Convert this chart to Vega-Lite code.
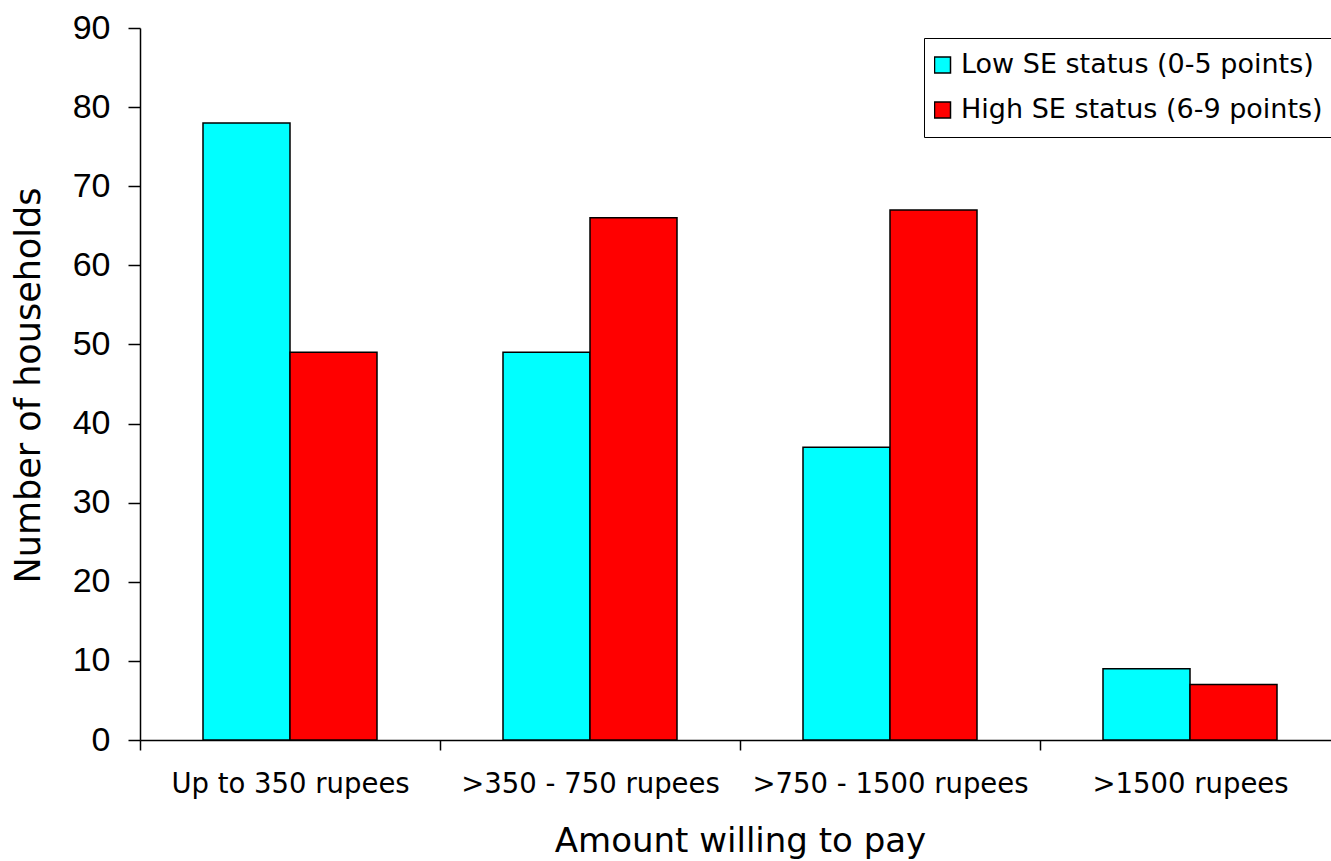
{
  "$schema": "https://vega.github.io/schema/vega-lite/v6.json",
  "autosize": {"type": "none"},
  "width": 1200,
  "height": 712,
  "padding": {"left": 140, "top": 28, "right": 0, "bottom": 121},
  "background": "white",
  "config": {
    "font": "Liberation Sans",
    "view": {"stroke": null},
    "axis": {"grid": false, "domainColor": "black", "tickColor": "black", "labelColor": "black", "titleColor": "black", "domainWidth": 1.5, "tickWidth": 1.5, "titleFontWeight": "normal"}
  },
  "data": {
    "values": [
      {"amount": "Up to 350 rupees", "group": "Low SE status (0-5 points)", "households": 78},
      {"amount": "Up to 350 rupees", "group": "High SE status (6-9 points)", "households": 49},
      {"amount": ">350 - 750 rupees", "group": "Low SE status (0-5 points)", "households": 49},
      {"amount": ">350 - 750 rupees", "group": "High SE status (6-9 points)", "households": 66},
      {"amount": ">750 - 1500 rupees", "group": "Low SE status (0-5 points)", "households": 37},
      {"amount": ">750 - 1500 rupees", "group": "High SE status (6-9 points)", "households": 67},
      {"amount": ">1500 rupees", "group": "Low SE status (0-5 points)", "households": 9},
      {"amount": ">1500 rupees", "group": "High SE status (6-9 points)", "households": 7}
    ]
  },
  "mark": {"type": "bar", "stroke": "black", "strokeWidth": 1.5},
  "encoding": {
    "x": {
      "field": "amount", "type": "nominal",
      "sort": ["Up to 350 rupees", ">350 - 750 rupees", ">750 - 1500 rupees", ">1500 rupees"],
      "scale": {"paddingInner": 0, "paddingOuter": 0},
      "axis": {
        "title": "Amount willing to pay", "titleFont": "DejaVu Sans", "titleFontSize": 34, "titlePadding": 27,
        "labelAngle": 0, "labelFont": "DejaVu Sans", "labelFontSize": 27.5, "labelPadding": 20, "labelLimit": 400,
        "tickBand": "extent", "tickSize": 10
      }
    },
    "xOffset": {
      "field": "group", "type": "nominal",
      "sort": ["Low SE status (0-5 points)", "High SE status (6-9 points)"],
      "scale": {"paddingInner": 0, "paddingOuter": 0.724}
    },
    "y": {
      "field": "households", "type": "quantitative",
      "scale": {"domain": [0, 90], "nice": false},
      "axis": {
        "title": "Number of households", "titleFont": "DejaVu Sans", "titleFontSize": 35,
        "titleX": -112, "titleY": 357, "titleAngle": -90, "titleBaseline": "middle", "titleAlign": "center",
        "values": [0, 10, 20, 30, 40, 50, 60, 70, 80, 90],
        "labelFontSize": 34, "labelPadding": 18, "tickSize": 12
      }
    },
    "color": {
      "field": "group", "type": "nominal",
      "sort": ["Low SE status (0-5 points)", "High SE status (6-9 points)"],
      "scale": {"domain": ["Low SE status (0-5 points)", "High SE status (6-9 points)"], "range": ["#00FFFF", "#FF0000"]},
      "legend": {
        "title": null, "orient": "none", "legendX": 784, "legendY": 10,
        "strokeColor": "black", "fillColor": "white", "padding": 10,
        "symbolType": "square", "symbolSize": 256, "symbolStrokeColor": "black", "symbolStrokeWidth": 1.5, "symbolOffset": -5,
        "labelFont": "DejaVu Sans", "labelFontSize": 27, "labelColor": "black", "labelLimit": 500, "labelOffset": 5,
        "clipHeight": 34, "rowPadding": 11
      }
    }
  }
}
